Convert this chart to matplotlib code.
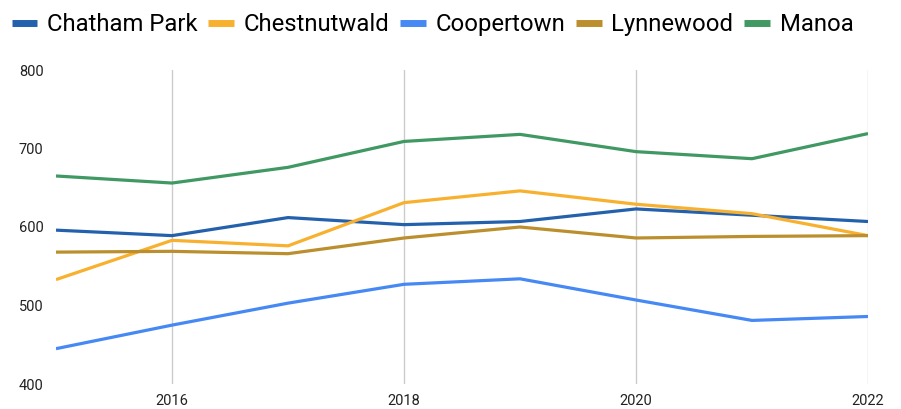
import matplotlib.pyplot as plt

# 各社区逐年数值
years = [2015, 2016, 2017, 2018, 2019, 2020, 2021, 2022]
chatham_park = [596, 589, 612, 603, 607, 623, 615, 607]
chestnutwald = [533, 583, 576, 631, 646, 629, 617, 589]
coopertown = [445, 475, 503, 527, 534, 507, 481, 486]
lynnewood = [568, 569, 566, 586, 600, 586, 588, 589]
manoa = [665, 656, 676, 709, 718, 696, 687, 719]

names = ['Chatham Park', 'Chestnutwald', 'Coopertown', 'Lynnewood', 'Manoa']
series = [chatham_park, chestnutwald, coopertown, lynnewood, manoa]
colors = ['#2361ad', '#f8b02f', '#4689f4', '#bb8f2d', '#409863']

y_ticks = [400, 500, 600, 700, 800]
x_ticks = [2016, 2018, 2020, 2022]

plt.rcParams['font.family'] = ['Roboto', 'DejaVu Sans']

fig = plt.figure(figsize=(9.01, 4.09), dpi=100)
ax = fig.add_axes([56 / 901, 1 - 384 / 409, (868 - 56) / 901, (384 - 70) / 409])

for name, vals, c in zip(names, series, colors):
    ax.plot(years, vals, color=c, linewidth=2.3, label=name, solid_capstyle='butt')

ax.set_xlim(2015, 2022)
ax.set_ylim(400, 800)
ax.set_xticks(x_ticks)
ax.set_yticks(y_ticks)
ax.tick_params(axis='both', length=0, labelsize=10.5, colors='#222222')
ax.tick_params(axis='y', pad=9)
ax.tick_params(axis='x', pad=7)

# 只有竖向网格线
ax.grid(axis='x', color='#cccccc', linewidth=1)
ax.grid(axis='y', visible=False)
ax.set_axisbelow(True)
for s in ax.spines.values():
    s.set_visible(False)

leg = fig.legend(loc='upper left', bbox_to_anchor=(0.005, 0.985), ncol=5,
                 frameon=False, fontsize=17.2, handlelength=1.08,
                 handletextpad=0.4, columnspacing=0.45, borderpad=0.3,
                 borderaxespad=0)
for h in leg.get_lines():
    h.set_linewidth(5)

fig.savefig('out.png', dpi=100)
